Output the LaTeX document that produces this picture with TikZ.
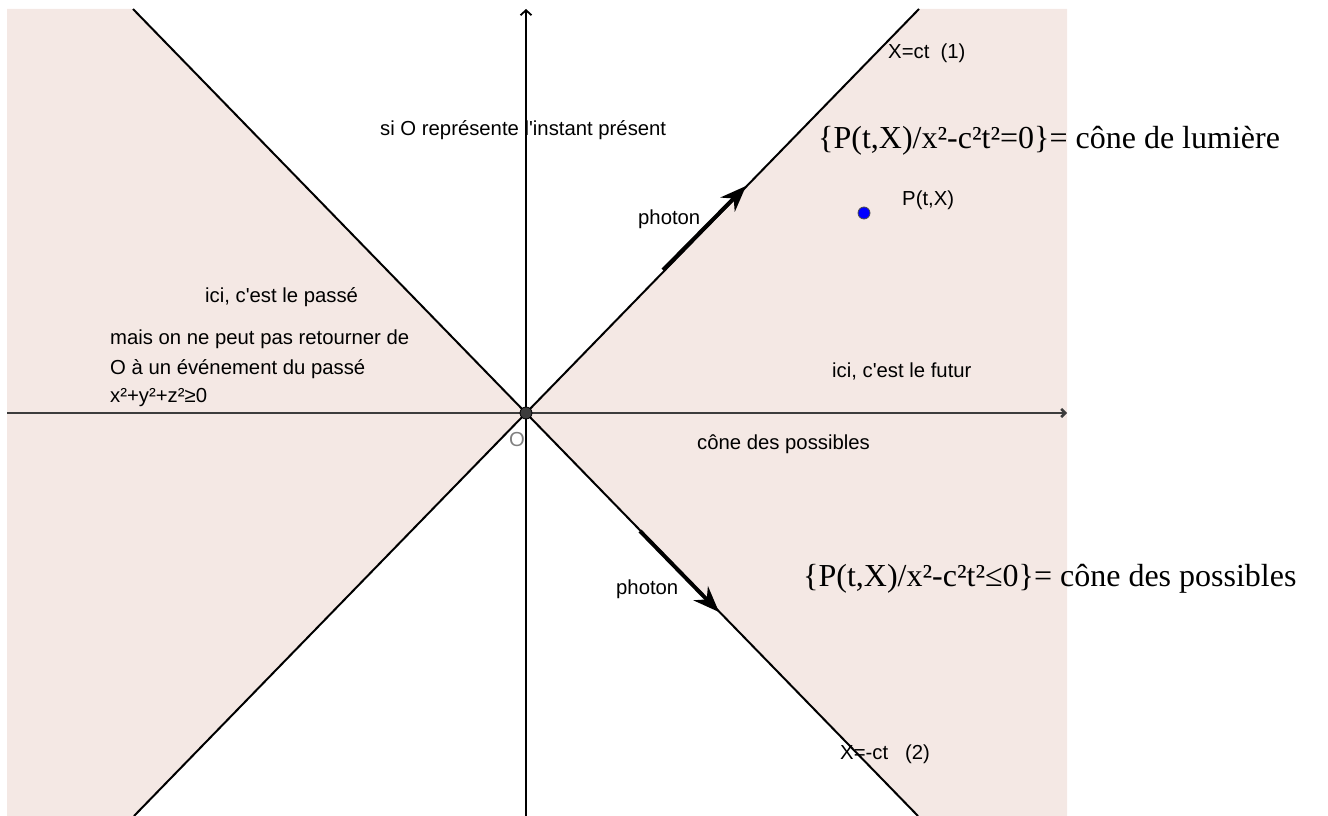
\documentclass[tikz,border=0pt]{standalone}
\usepackage{fontspec}
\setmainfont{Liberation Sans}
\newfontfamily\timesf{Liberation Serif}
\usetikzlibrary{arrows.meta}
\definecolor{coneshade}{RGB}{244,232,228}
\definecolor{axisgray}{RGB}{60,60,60}
\tikzset{
  lbl/.style={inner sep=0pt, anchor=west, font=\fontsize{20.3}{24}\selectfont},
  biglbl/.style={inner sep=0pt, anchor=west, font=\timesf\fontsize{32}{38}\selectfont},
  coneline/.style={line width=2pt, black},
  photonarrow/.style={line width=4pt, -{Stealth[length=26pt,width=20pt]}},
}
\begin{document}
\begin{tikzpicture}[x=1pt,y=-1pt]
\useasboundingbox (0,0) rectangle (1328,816);
% key points
\coordinate (O) at (526,413);
\coordinate (ul) at (133,9);
\coordinate (ur) at (919,9);
\coordinate (ll) at (134,816);
\coordinate (lr) at (918,816);
% shaded regions
\fill[coneshade] (O) -- (ul) -- (7,9) -- (7,816) -- (ll) -- cycle;
\fill[coneshade] (O) -- (ur) -- (1067,9) -- (1067,816) -- (lr) -- cycle;
% axes
\coordinate (xl) at (7,413);
\coordinate (xr) at (1067,413);
\coordinate (yb) at (526,816);
\coordinate (yt) at (526,9);
\draw[axisgray, line width=2.5pt, -{Straight Barb[length=4pt,width=8pt]}] (xl) -- (xr);
\draw[black, line width=1.8pt, -{Straight Barb[length=5pt,width=11pt]}] (yb) -- (yt);
% cone lines
\draw[coneline] (ul) -- (lr);
\draw[coneline] (ll) -- (ur);
% photons
\coordinate (p1s) at (663,270);
\coordinate (p1e) at (746,186);
\coordinate (p2s) at (640,531);
\coordinate (p2e) at (719,612);
\draw[photonarrow] (p1s) -- (p1e);
\draw[photonarrow] (p2s) -- (p2e);
% points
\node[circle, fill=axisgray, draw=black, line width=0.8pt, inner sep=0pt, minimum size=12pt] (Odot) at (O) {};
\node[circle, fill=blue, draw=black!70, line width=0.8pt, inner sep=0pt, minimum size=12pt] (P) at (864,213) {};
% labels
\node[lbl] (t1) at (380,130) {si O représente l\textquotesingle instant présent};
\node[lbl] (t2) at (888,53) {X=ct\ \ (1)};
\node[biglbl] (t3) at (818,141) {\{P(t,X)/x²-c²t²=0\}= cône de lumière};
\node[lbl] (t4) at (638,219) {photon};
\node[lbl] (t5) at (902,200) {P(t,X)};
\node[lbl] (t6) at (205,297) {ici, c\textquotesingle est le passé};
\node[lbl] (t7) at (110,339) {mais on ne peut pas retourner de};
\node[lbl] (t8) at (110,369) {O à un événement du passé};
\node[lbl] (t9) at (110,398) {x²+y²+z²≥0};
\node[lbl] (t10) at (832,371) {ici, c\textquotesingle est le futur};
\node[lbl] (t11) at (697,444) {cône des possibles};
\node[biglbl] (t12) at (803,579) {\{P(t,X)/x²-c²t²≤0\}= cône des possibles};
\node[lbl] (t13) at (616,589) {photon};
\node[lbl] (t14) at (840,754) {X=-ct\ \ \ (2)};
\node[lbl, text=gray] (t15) at (509,440) {O};
\end{tikzpicture}
\end{document}
